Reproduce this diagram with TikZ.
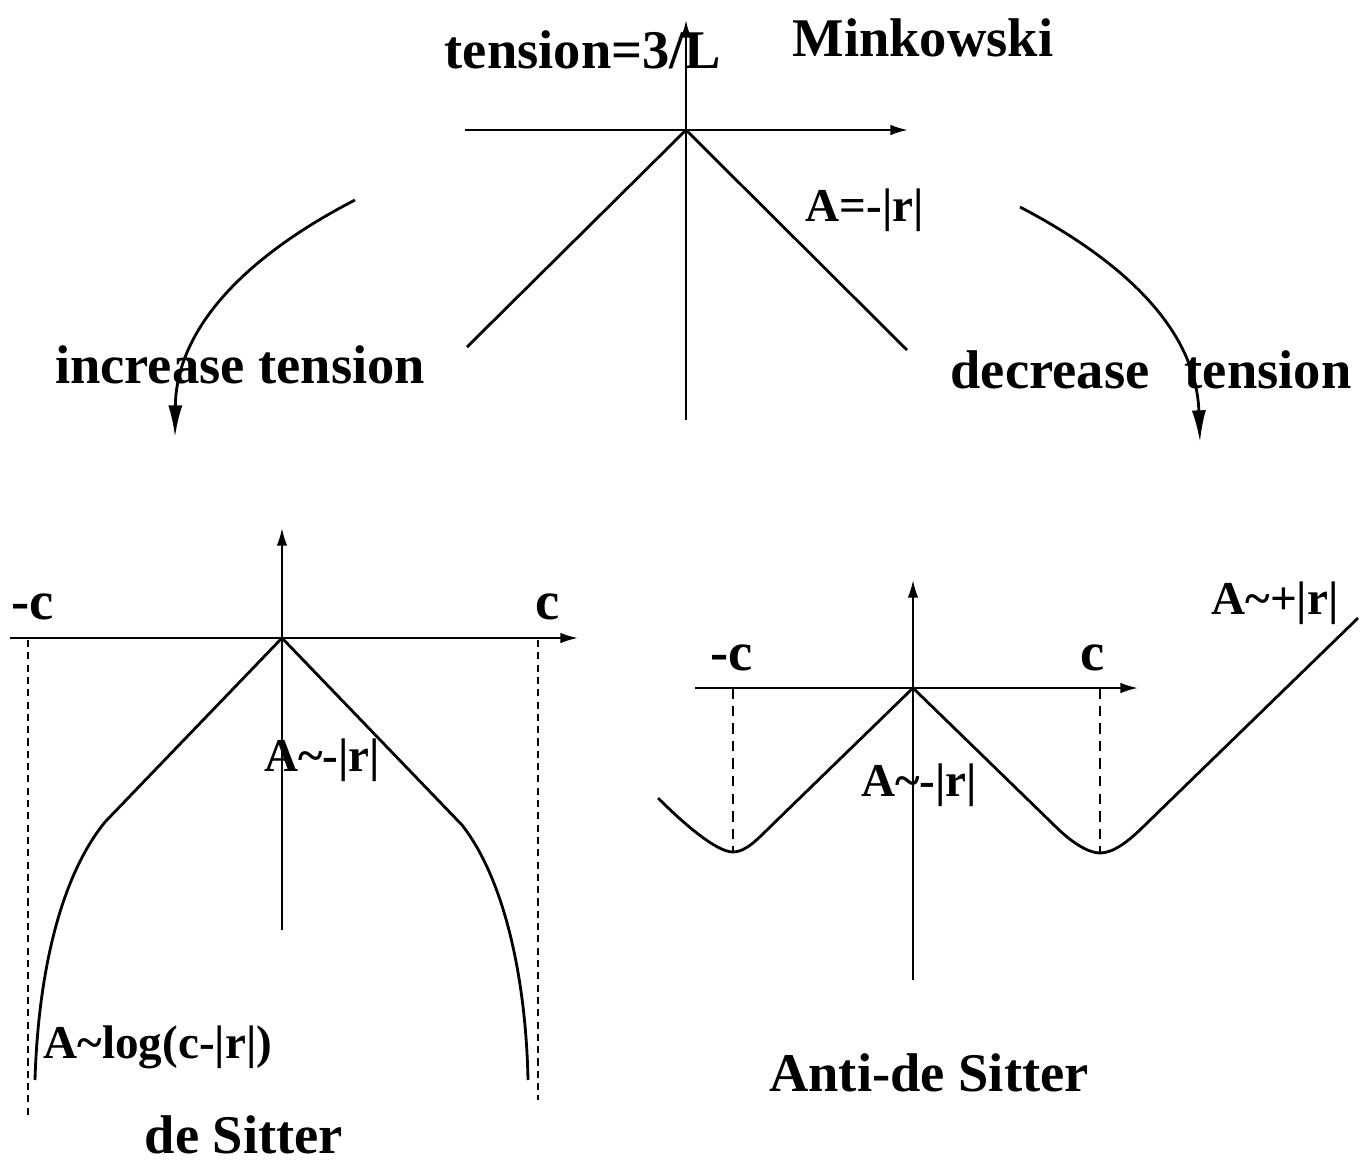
\documentclass[tikz,border=0pt]{standalone}
\usepackage{fontspec}
\setmainfont{Liberation Serif}
\usepackage{tikz}
\usetikzlibrary{calc,positioning,arrows.meta}

\tikzset{
  axis/.style={line width=0.6pt,-{Latex[length=5pt,width=3pt]}},
  prof/.style={line width=0.8pt},
  guide/.style={line width=0.7pt,dash pattern=on 2pt off 1.5pt},
  flow/.style={line width=0.8pt,-{Latex[length=9pt,width=4pt]}},
  lbl/.style={font=\fontsize{13.4}{16}\selectfont\bfseries,inner sep=0pt},
  ttl/.style={font=\fontsize{15.5}{18}\selectfont\bfseries,inner sep=0pt},
}

\begin{document}
\begin{tikzpicture}[x=0.01cm,y=-0.01cm]
  \useasboundingbox (0,0) rectangle (1369,1163);
  % Minkowski
  \coordinate (mO) at (686,130);
  \draw[axis] (465,130) -- (908,130);
  \draw[axis] (686,420) -- (686,20);
  \draw[prof] (467,347) -- (mO) -- (907,350);
  \node[ttl] (mtens) at (583,50) {tension=3/L};
  \node[ttl] (mtitle) at (923,38) {Minkowski};
  \node[lbl] (mA) at (865,210) {A=-|r|};
  % transitions
  \coordinate (incS) at (355,200);
  \coordinate (incE) at (175,437);
  \coordinate (decS) at (1020,207);
  \coordinate (decE) at (1200,442);
  \draw[flow] (incS) .. controls (235,262) and (176,335) .. (incE);
  \draw[flow] (decS) .. controls (1125,262) and (1196,330) .. (decE);
  \node[ttl] (inc) at (240,365) {increase tension};
  \node[ttl] (dec) at (1151,370) {decrease\hspace{0.65em}tension};
  % de Sitter
  \coordinate (dO) at (282,638);
  \draw[axis] (10,638) -- (578,638);
  \draw[axis] (282,930) -- (282,528);
  \draw[guide] (28,640) -- (28,1115);
  \draw[guide] (538,640) -- (538,1100);
  \draw[prof] (35,1080) .. controls (38,980) and (58,880) .. (105,822)
    -- (dO) -- (462,825) .. controls (505,880) and (526,980) .. (528,1080);
  \node[ttl] (dmc) at (33,607) {-c};
  \node[ttl] (dpc) at (548,607) {c};
  \node[lbl] (dA) at (322,760) {A\textasciitilde-|r|};
  \node[lbl] (dlog) at (158,1047) {A\textasciitilde log(c-|r|)};
  \node[ttl] (dtitle) at (244,1135) {de Sitter};
  % Anti-de Sitter
  \coordinate (aO) at (913,688);
  \draw[axis] (695,688) -- (1138,688);
  \draw[axis] (913,980) -- (913,580);
  \draw[guide,dash pattern=on 3pt off 2pt] (733,688) -- (733,852);
  \draw[guide,dash pattern=on 3pt off 2pt] (1100,688) -- (1100,852);
  \draw[prof] (658,798) .. controls (682,822) and (716,852) .. (733,852)
    .. controls (745,852) and (756,841) .. (772,825) -- (aO)
    -- (1055,826) .. controls (1071,842) and (1088,853) .. (1100,853)
    .. controls (1113,853) and (1128,842) .. (1145,825) -- (1358,618);
  \node[ttl] (amc) at (732,658) {-c};
  \node[ttl] (apc) at (1093,658) {c};
  \node[lbl] (aA) at (919,785) {A\textasciitilde-|r|};
  \node[lbl] (aplus) at (1275,603) {A\textasciitilde+|r|};
  \node[ttl] (atitle) at (929,1073) {Anti-de Sitter};
\end{tikzpicture}
\end{document}
